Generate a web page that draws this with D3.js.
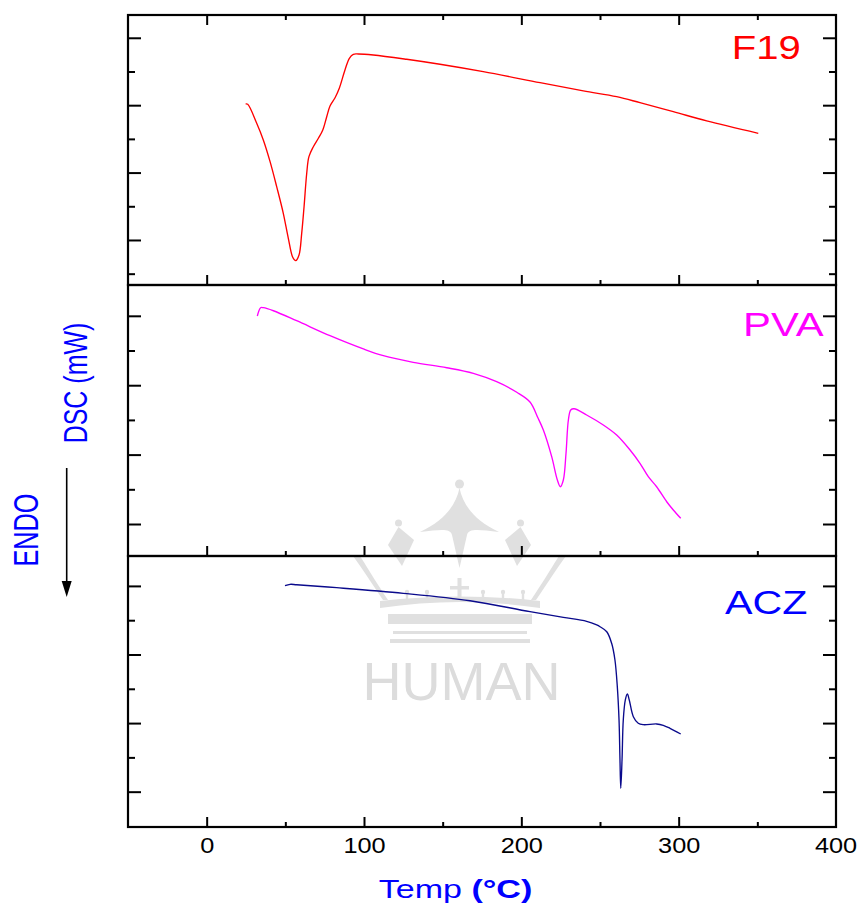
<!DOCTYPE html>
<html>
<head>
<meta charset="utf-8">
<script src="https://cdn.jsdelivr.net/npm/d3@7"></script>
<style>
  html, body { margin: 0; padding: 0; background: #fff; }
  svg { display: block; }
</style>
</head>
<body>
<svg id="chart" width="859" height="905"></svg>
<script>
// ---- data -------------------------------------------------------------
// Temperature axis (°C)
const xDomain = [-50, 400];
const xMajorTicks = [0, 100, 200, 300, 400];
const xMinorTicks = [50, 150, 250, 350];

// Heat flow ticks (unlabelled, arbitrary mW offset per trace)
const yMajorTicks = [0, 1, 2, 3];
const yMinorTicks = [-0.5, 0.5, 1.5, 2.5];

// F19 formulation
const f19Temp = [24.8, 26.1, 31.8, 36.0, 40.3, 44.5, 48.7, 51.9, 54.7, 56.6, 58.7, 60.4, 61.9, 63.6, 65.0, 67.8,
  71.0, 73.8, 76.3, 78.4, 81.6, 84.3, 87.9, 90.7, 93.2, 96.4, 105.9, 127.1, 148.3, 175.8, 211.9, 239.4, 260.6,
  275.4, 296.6, 317.8, 350.6];
const f19Heat = [2.018, 2.013, 1.731, 1.484, 1.162, 0.791, 0.396, 0.025, -0.257, -0.307, -0.223, 0.099, 0.494, 0.990,
  1.236, 1.384, 1.509, 1.632, 1.829, 1.988, 2.111, 2.251, 2.522, 2.696, 2.755, 2.760, 2.745, 2.681, 2.607, 2.497,
  2.334, 2.211, 2.126, 2.037, 1.904, 1.766, 1.583];

// PVA
const pvaTemp = [32.2, 34.3, 36.0, 42.4, 57.2, 78.4, 99.6, 112.3, 131.3, 152.6, 169.5, 184.3, 197.1, 205.5, 210.6,
  214.0, 219.3, 222.9, 224.8, 226.7, 228.4, 229.9, 231.4, 233.5, 241.5, 252.1, 260.6, 269.1, 275.4, 280.7, 286.0,
  292.4, 296.6, 301.3];
const pvaHeat = [2.997, 3.117, 3.117, 3.073, 2.929, 2.713, 2.522, 2.425, 2.330, 2.252, 2.171, 2.050, 1.898, 1.758,
  1.527, 1.354, 0.970, 0.634, 0.537, 0.634, 1.019, 1.499, 1.643, 1.661, 1.571, 1.427, 1.282, 1.066, 0.875, 0.682,
  0.537, 0.321, 0.202, 0.082];

// ACZ
const aczTemp = [49.8, 53.0, 57.2, 82.6, 125.0, 167.4, 205.5, 226.7, 241.5, 247.9, 250.0, 254.3, 257.4, 259.5, 261.0,
  262.1, 262.7, 263.2, 264.0, 264.8, 266.1, 267.4, 268.6, 271.2, 274.3, 277.5, 286.0, 290.2, 294.5, 301.3];
const aczHeat = [3.003, 3.023, 3.017, 2.974, 2.892, 2.784, 2.624, 2.542, 2.484, 2.431, 2.405, 2.332, 2.163, 1.920,
  1.531, 1.045, 0.462, 0.050, 0.462, 1.045, 1.337, 1.424, 1.337, 1.093, 0.997, 0.977, 0.987, 0.968, 0.924, 0.841];

const seriesNames = ["F19", "PVA", "ACZ"];
const seriesColors = ["#ff0000", "#ff00ff", "#0a0a8c"];
const labelColors = ["#ff0000", "#ff00ff", "#0000ff"];
const yDomains = [[-0.668, 3.338], [-0.461, 3.444], [-0.515, 3.436]];

// ---- layout -----------------------------------------------------------
const svg = d3.select("#chart");
const left = 128, right = 836;
const panelEdges = [15, 285, 556, 827];
const FONT = "'Liberation Sans', Arial, Helvetica, sans-serif";

const x = d3.scaleLinear().domain(xDomain).range([left, right]);

// ---- faint watermark behind the plot ----------------------------------
const wm = svg.append("g").attr("fill", "#e0e0e0").attr("stroke", "none");
wm.append("circle").attr("cx", 459.5).attr("cy", 484).attr("r", 4.5);
wm.append("circle").attr("cx", 398.5).attr("cy", 523).attr("r", 3.5);
wm.append("circle").attr("cx", 520.5).attr("cy", 523).attr("r", 3.5);
// central spire
wm.append("path").attr("d",
  "M459.5,488 C456,505 445,520 420,532 C440,530 450,528 452,535 L459.5,568 L467,535 C469,528 479,530 499,532 C474,520 463,505 459.5,488Z");
// side leaves
wm.append("path").attr("d", "M398.5,527 L388,545 L402,566 L414,540Z");
wm.append("path").attr("d", "M520.5,527 L531,545 L517,566 L505,540Z");
// outer arms
wm.append("path").attr("d", "M353,556 C362,568 372,584 383,600 L388,600 C378,585 370,572 360,556Z");
wm.append("path").attr("d", "M566,556 C557,568 547,584 536,600 L531,600 C541,585 549,572 559,556Z");
// small spikes and cross
[407, 427, 483, 503, 523].forEach(cx => {
  wm.append("circle").attr("cx", cx).attr("cy", 592).attr("r", 2.2);
  wm.append("rect").attr("x", cx - 1.2).attr("y", 592).attr("width", 2.4).attr("height", 8);
});
wm.append("rect").attr("x", 457.5).attr("y", 578).attr("width", 4).attr("height", 22);
wm.append("rect").attr("x", 450).attr("y", 586).attr("width", 19).attr("height", 3.5);
// bands
wm.append("path").attr("d", "M380,608 Q460,596 540,608 L540,601 Q460,592 380,601Z");
wm.append("rect").attr("x", 388).attr("y", 614).attr("width", 144).attr("height", 10);
wm.append("rect").attr("x", 393).attr("y", 631).attr("width", 134).attr("height", 3);
wm.append("rect").attr("x", 390).attr("y", 639).attr("width", 140).attr("height", 4);
wm.append("text").attr("x", 461.5).attr("y", 700).attr("text-anchor", "middle")
  .attr("font-family", FONT).attr("font-size", 54).attr("fill", "#dcdcdc")
  .text("HUMAN");

// ---- panels -----------------------------------------------------------
const traces = [[f19Temp, f19Heat], [pvaTemp, pvaHeat], [aczTemp, aczHeat]];

function styleTicks(g) {
  g.select(".domain").remove();
  g.selectAll(".tick line").attr("stroke", "#000").attr("stroke-width", 2);
}

traces.forEach((t, i) => {
  const top = panelEdges[i], bottom = panelEdges[i + 1];
  const y = d3.scaleLinear().domain(yDomains[i]).range([bottom, top]);
  const lo = Math.min(...yDomains[i]), hi = Math.max(...yDomains[i]);
  const minor = yMinorTicks.filter(v => v > lo + 0.05 && v < hi - 0.05);

  const g = svg.append("g");

  // trace
  const pts = t[0].map((T, k) => [T, t[1][k]]);
  g.append("path")
    .datum(pts)
    .attr("fill", "none")
    .attr("stroke", seriesColors[i])
    .attr("stroke-width", 1.35)
    .attr("stroke-linejoin", "round")
    .attr("d", d3.line().x(d => x(d[0])).y(d => y(d[1])).curve(d3.curveCatmullRom.alpha(0.5)));

  // left / right heat-flow ticks (inward)
  g.append("g").attr("transform", `translate(${left},0)`)
    .call(d3.axisLeft(y).tickValues(yMajorTicks).tickSize(-13).tickFormat("")).call(styleTicks);
  g.append("g").attr("transform", `translate(${left},0)`)
    .call(d3.axisLeft(y).tickValues(minor).tickSize(-7).tickFormat("")).call(styleTicks);
  g.append("g").attr("transform", `translate(${right},0)`)
    .call(d3.axisRight(y).tickValues(yMajorTicks).tickSize(-13).tickFormat("")).call(styleTicks);
  g.append("g").attr("transform", `translate(${right},0)`)
    .call(d3.axisRight(y).tickValues(minor).tickSize(-7).tickFormat("")).call(styleTicks);

  // temperature ticks along the bottom edge of each panel (pointing up)
  const isLast = i === traces.length - 1;
  const bx = g.append("g").attr("transform", `translate(0,${bottom})`)
    .call(d3.axisBottom(x).tickValues(xMajorTicks.filter(v => v < 400)).tickSize(-10).tickPadding(10)
      .tickFormat(isLast ? d3.format("d") : ""))
    .call(styleTicks);
  g.append("g").attr("transform", `translate(0,${bottom})`)
    .call(d3.axisBottom(x).tickValues(xMinorTicks).tickSize(-5).tickFormat("")).call(styleTicks);
  if (isLast) {
    // label at the right-hand edge too
    bx.append("g").attr("class", "tick").attr("transform", `translate(${x(400)},0)`)
      .append("text").attr("y", 10).attr("dy", "0.71em").text(d3.format("d")(400));
    bx.selectAll("text")
      .attr("fill", "#000").attr("font-family", FONT).attr("font-size", 22)
      .attr("text-anchor", "middle")
      .attr("transform", "scale(1.15,1)");
  }
  // temperature ticks along the top of the first panel (pointing down)
  if (i === 0) {
    g.append("g").attr("transform", `translate(0,${top})`)
      .call(d3.axisTop(x).tickValues(xMajorTicks.filter(v => v < 400)).tickSize(-10).tickFormat("")).call(styleTicks);
    g.append("g").attr("transform", `translate(0,${top})`)
      .call(d3.axisTop(x).tickValues(xMinorTicks).tickSize(-5).tickFormat("")).call(styleTicks);
  }

  // frame
  g.append("rect")
    .attr("x", left).attr("y", top)
    .attr("width", right - left).attr("height", bottom - top)
    .attr("fill", "none").attr("stroke", "#000").attr("stroke-width", 2.2);
});

// ---- trace names ------------------------------------------------------
const nameSpots = [[731.7, 59.3, 32.6], [743, 336, 34], [725, 614, 33.5]];
seriesNames.forEach((n, i) => {
  const [tx, ty, fs] = nameSpots[i];
  svg.append("text")
    .attr("transform", `translate(${tx},${ty}) scale(1.23,1)`)
    .attr("font-family", FONT).attr("font-size", fs)
    .attr("fill", labelColors[i])
    .text(n);
});

// ---- axis titles ------------------------------------------------------
const xTitle = svg.append("text")
  .attr("transform", "translate(455.5,898) scale(1.33,1)")
  .attr("text-anchor", "middle")
  .attr("font-family", FONT).attr("font-size", 25.6)
  .attr("fill", "#0000ff");
xTitle.append("tspan").text("Temp ");
xTitle.append("tspan").attr("font-weight", "bold").text("(°C)");

svg.append("text")
  .attr("transform", "translate(87.3,383) scale(1.35,1) rotate(-90)")
  .attr("text-anchor", "middle")
  .attr("font-family", FONT).attr("font-size", 25)
  .attr("fill", "#0000ff")
  .text("DSC (mW)");

svg.append("text")
  .attr("transform", "translate(38.3,530) scale(1.4,1) rotate(-90)")
  .attr("text-anchor", "middle")
  .attr("font-family", FONT).attr("font-size", 25.3)
  .attr("fill", "#0000ff")
  .text("ENDO");

// endothermic direction arrow
svg.append("line")
  .attr("x1", 66.7).attr("y1", 468).attr("x2", 66.7).attr("y2", 584)
  .attr("stroke", "#000").attr("stroke-width", 1.6);
svg.append("path")
  .attr("d", "M61.7,581 L71.7,581 L66.7,597Z")
  .attr("fill", "#000");
</script>
</body>
</html>
